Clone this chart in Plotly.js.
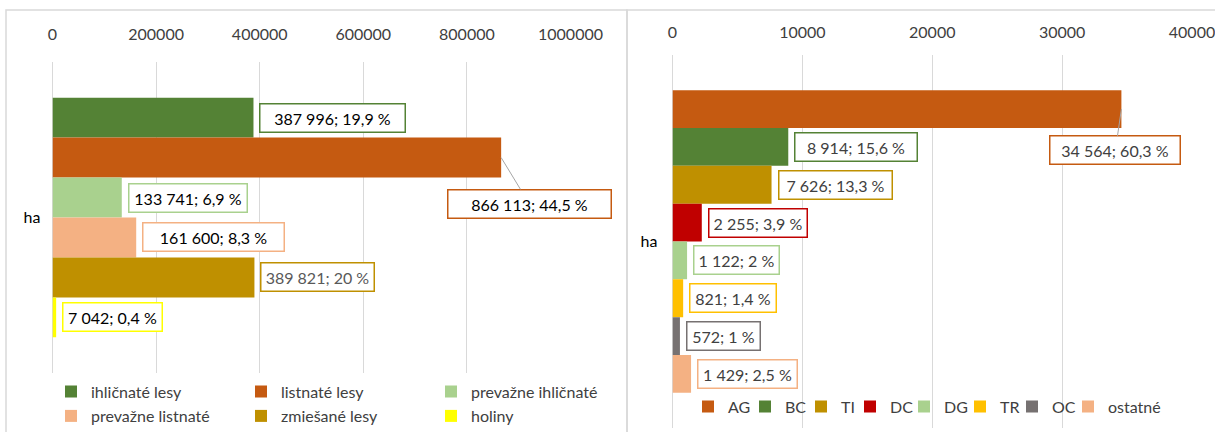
<!DOCTYPE html>
<html>
<head>
<meta charset="utf-8">
<script src="https://cdn.plot.ly/plotly-3.0.1.min.js"></script>
<style>
  html, body { margin: 0; padding: 0; background: #ffffff; }
  #chart { width: 1215px; height: 432px; }
</style>
</head>
<body>
<div id="chart"></div>
<script>
// ---------- data ----------
const category = ['ha'];

const leftNames = ['ihličnaté lesy', 'listnaté lesy', 'prevažne ihličnaté', 'prevažne listnaté', 'zmiešané lesy', 'holiny'];
const leftValues = [387996, 866113, 133741, 161600, 389821, 7042];
const leftPercents = ['19,9', '44,5', '6,9', '8,3', '20', '0,4'];
const leftTickValues = [0, 200000, 400000, 600000, 800000, 1000000];

const rightNames = ['AG', 'BC', 'TI', 'DC', 'DG', 'TR', 'OC', 'ostatné'];
const rightValues = [34564, 8914, 7626, 2255, 1122, 821, 572, 1429];
const rightPercents = ['60,3', '15,6', '13,3', '3,9', '2', '1,4', '1', '2,5'];
const rightTickValues = [0, 10000, 20000, 30000, 40000];

// ---------- styles ----------
const leftColors = ['#548235', '#C55A11', '#A9D18E', '#F4B183', '#BF9000', '#FFFF00'];
const leftLabelFont = ['#000000', '#000000', '#000000', '#000000', '#595959', '#000000'];
const leftBoxWidths = [147, 165, 120, 143, 115, 101];
const leftLegendGroup = ['legend', 'legend', 'legend', 'legend3', 'legend3', 'legend3'];

const rightColors = ['#C55A11', '#548235', '#BF9000', '#C00000', '#A9D18E', '#FFC000', '#767171', '#F4B183'];
const rightBoxWidths = [132, 124, 115, 100, 87, 88, 75, 101];
const rightLegendWidths = [12, 11, 4, 9, 11, 7, 11, 60];

// callout (leader line) offsets in px for labels placed away from the bar
const leftCallout = {1: {ax: 28, ay: 46}};
const rightCallout = {0: {ax: -6, ay: 41}};

const FONT = 'Lato, Carlito, Calibri, "Liberation Sans", sans-serif';
const GRID = '#d9d9d9';
const BARGAP = 0.2;
const PAD = 4;

function fmt(v) {
  return String(v).replace(/\B(?=(\d{3})+(?!\d))/g, ' ');
}

const traces = [];
const annotations = [];

function addSeries(names, values, percents, colors, xa, ya, legendOf, widthOf, fontOf, boxW, callouts) {
  const n = names.length;
  names.forEach((nm, i) => {
    const t = {
      type: 'bar', orientation: 'h',
      x: [values[i]], y: category,
      name: nm,
      marker: {color: colors[i], line: {width: 0}},
      xaxis: xa, yaxis: ya,
      legend: legendOf(i),
      hoverinfo: 'skip'
    };
    const lw = widthOf(i);
    if (lw !== null) t.legendwidth = lw;
    traces.push(t);

    const center = -(1 - BARGAP) / 2 + (i + 0.5) * (1 - BARGAP) / n;
    const a = {
      xref: xa, yref: ya,
      x: values[i], y: center,
      text: fmt(values[i]) + '; ' + percents[i] + ' %',
      font: {family: FONT, size: 16, color: fontOf(i)},
      bgcolor: '#ffffff',
      bordercolor: colors[i], borderwidth: 1.5, borderpad: PAD,
      width: boxW[i] - 2 * PAD - 3,
      align: 'center',
      yanchor: 'middle'
    };
    if (callouts[i]) {
      Object.assign(a, {
        showarrow: true, arrowhead: 0, arrowwidth: 1, arrowcolor: '#a6a6a6',
        ax: callouts[i].ax, ay: callouts[i].ay, standoff: 0, xanchor: 'center'
      });
    } else {
      Object.assign(a, {showarrow: false, xanchor: 'left', xshift: 6});
    }
    annotations.push(a);
  });
}

addSeries(leftNames, leftValues, leftPercents, leftColors, 'x', 'y',
  i => leftLegendGroup[i], i => null, i => leftLabelFont[i], leftBoxWidths, leftCallout);
addSeries(rightNames, rightValues, rightPercents, rightColors, 'x2', 'y2',
  i => 'legend2', i => rightLegendWidths[i], i => '#404040', rightBoxWidths, rightCallout);

const W = 1215, H = 432;
const px = v => v / W;
const py = v => (H - v) / H;

const axisFont = {family: FONT, size: 16, color: '#404040'};

const layout = {
  width: W, height: H,
  margin: {l: 0, r: 0, t: 0, b: 0, autoexpand: false},
  paper_bgcolor: '#ffffff', plot_bgcolor: 'rgba(0,0,0,0)',
  barmode: 'group', bargap: BARGAP, bargroupgap: 0,
  font: {family: FONT, size: 16, color: '#404040'},
  showlegend: true,
  xaxis: {
    domain: [px(52.5), px(570.5)], anchor: 'y', side: 'top',
    range: [0, 1000000], tickmode: 'array', tickvals: leftTickValues,
    tickformat: 'd', tickfont: axisFont, ticks: '', ticklabelstandoff: 18,
    ticklabeloverflow: 'allow',
    showgrid: true, gridcolor: GRID, gridwidth: 1,
    zeroline: true, zerolinecolor: GRID, zerolinewidth: 1,
    showline: false, fixedrange: true
  },
  yaxis: {
    domain: [py(373.3), py(61.7)], anchor: 'x', type: 'category',
    range: [0.52, -0.52], tickfont: {family: FONT, size: 16, color: '#000000'},
    ticks: '', ticklabelstandoff: 11, showgrid: false, zeroline: false, showline: false,
    fixedrange: true
  },
  xaxis2: {
    domain: [px(672.5), px(1192)], anchor: 'y2', side: 'top',
    range: [0, 40000], tickmode: 'array', tickvals: rightTickValues,
    tickformat: 'd', tickfont: axisFont, ticks: '', ticklabelstandoff: 13,
    ticklabeloverflow: 'allow',
    showgrid: true, gridcolor: GRID, gridwidth: 1,
    zeroline: true, zerolinecolor: GRID, zerolinewidth: 1,
    showline: false, fixedrange: true
  },
  yaxis2: {
    domain: [py(428), py(55)], anchor: 'x2', type: 'category',
    range: [0.493, -0.493], tickfont: {family: FONT, size: 16, color: '#000000'},
    ticks: '', ticklabelstandoff: 14, showgrid: false, zeroline: false, showline: false,
    fixedrange: true
  },
  legend: {
    orientation: 'h', x: px(51), xanchor: 'left', y: py(391.7), yanchor: 'middle',
    entrywidth: 145, entrywidthmode: 'pixels', itemwidth: 30,
    font: {family: FONT, size: 16, color: '#404040'}, bgcolor: 'rgba(0,0,0,0)',
    traceorder: 'normal', itemclick: false
  },
  legend3: {
    orientation: 'h', x: px(51), xanchor: 'left', y: py(416), yanchor: 'middle',
    entrywidth: 145, entrywidthmode: 'pixels', itemwidth: 30,
    font: {family: FONT, size: 16, color: '#404040'}, bgcolor: 'rgba(0,0,0,0)',
    traceorder: 'normal', itemclick: false
  },
  legend2: {
    orientation: 'h', x: px(688), xanchor: 'left', y: py(406.7), yanchor: 'middle',
    itemwidth: 30,
    font: {family: FONT, size: 16, color: '#404040'}, bgcolor: 'rgba(0,0,0,0)',
    traceorder: 'normal', itemclick: false
  },
  annotations: annotations,
  shapes: [
    {type: 'rect', xref: 'paper', yref: 'paper', x0: px(6), x1: px(627), y0: -0.05, y1: py(10),
     line: {color: GRID, width: 1.5}, fillcolor: 'rgba(0,0,0,0)', layer: 'below'},
    {type: 'rect', xref: 'paper', yref: 'paper', x0: px(627), x1: 1.05, y0: -0.05, y1: py(10),
     line: {color: GRID, width: 1.5}, fillcolor: 'rgba(0,0,0,0)', layer: 'below'}
  ],
  hovermode: false
};

Plotly.newPlot('chart', traces, layout, {staticPlot: true, displayModeBar: false});
</script>
</body>
</html>
